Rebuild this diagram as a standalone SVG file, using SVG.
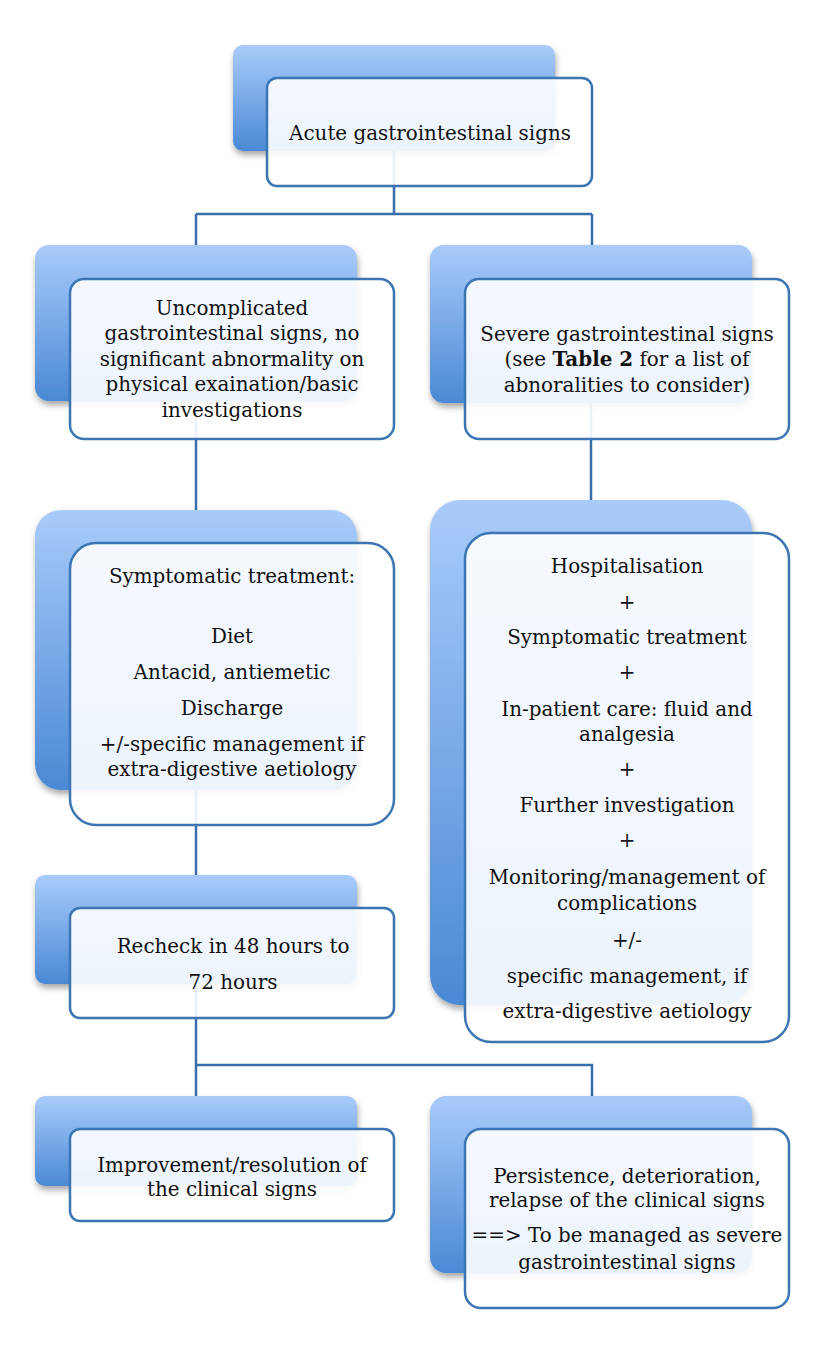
<svg xmlns="http://www.w3.org/2000/svg" width="839" height="1354" viewBox="0 0 839 1354">
<defs>
<linearGradient id="bg" x1="0" y1="0" x2="0" y2="1">
<stop offset="0" stop-color="#a9cbfa"/>
<stop offset="1" stop-color="#4a89d5"/>
</linearGradient>
<filter id="sh" x="-10%" y="-10%" width="125%" height="130%">
<feDropShadow dx="1" dy="4" stdDeviation="3" flood-color="#000" flood-opacity="0.35"/>
</filter>
</defs>
<style>
.back{fill:url(#bg);filter:url(#sh)}
.front{fill:#ffffff;fill-opacity:0.9;stroke:#3b75b4;stroke-width:2.5}
.conn{fill:none;stroke:#3a6ea8;stroke-width:2.5}
text{font-family:"DejaVu Serif","Liberation Serif",serif;font-size:19.9px;fill:#111;text-anchor:middle}
</style>
<rect width="839" height="1354" fill="#ffffff"/>
<g id="connectors">
<path class="conn" d="M394,151 V214 M196,214 H592 M196,214 V245 M592,214 V245"/>
<path class="conn" d="M196,400 V510"/>
<path class="conn" d="M591,403 V500"/>
<path class="conn" d="M196,790 V875"/>
<path class="conn" d="M196,984 V1096 M196,1065 H592 V1096"/>
</g>
<g id="n1">
<rect class="back" x="233" y="45" width="322" height="106" rx="10"/>
<rect class="front" x="267" y="78" width="325" height="108" rx="10"/>
<text x="430" y="140">Acute gastrointestinal signs</text>
</g>
<g id="n2">
<rect class="back" x="35" y="245" width="322" height="156" rx="14"/>
<rect class="front" x="70" y="279" width="324" height="160" rx="14"/>
<text x="232" y="315">Uncomplicated</text>
<text x="232" y="340">gastrointestinal signs, no</text>
<text x="232" y="366">significant abnormality on</text>
<text x="232" y="391">physical exaination/basic</text>
<text x="232" y="417">investigations</text>
</g>
<g id="n3">
<rect class="back" x="430" y="245" width="322" height="158" rx="14"/>
<rect class="front" x="465" y="279" width="324" height="160" rx="14"/>
<text x="627" y="341">Severe gastrointestinal signs</text>
<text x="627" y="366">(see <tspan font-weight="bold">Table 2</tspan> for a list of</text>
<text x="627" y="392">abnoralities to consider)</text>
</g>
<g id="n4">
<rect class="back" x="35" y="510" width="322" height="280" rx="26"/>
<rect class="front" x="70" y="543" width="324" height="282" rx="26"/>
<text x="232" y="583">Symptomatic treatment:</text>
<text x="232" y="643">Diet</text>
<text x="232" y="679">Antacid, antiemetic</text>
<text x="232" y="715">Discharge</text>
<text x="232" y="751">+/-specific management if</text>
<text x="232" y="776">extra-digestive aetiology</text>
</g>
<g id="n5">
<rect class="back" x="430" y="500" width="322" height="505" rx="30"/>
<rect class="front" x="465" y="533" width="324" height="509" rx="26"/>
<text x="627" y="573">Hospitalisation</text>
<text x="627" y="609">+</text>
<text x="627" y="644">Symptomatic treatment</text>
<text x="627" y="679">+</text>
<text x="627" y="716">In-patient care: fluid and</text>
<text x="627" y="741">analgesia</text>
<text x="627" y="776">+</text>
<text x="627" y="812">Further investigation</text>
<text x="627" y="847">+</text>
<text x="627" y="884">Monitoring/management of</text>
<text x="627" y="910">complications</text>
<text x="627" y="947">+/-</text>
<text x="627" y="983">specific management, if</text>
<text x="627" y="1018">extra-digestive aetiology</text>
</g>
<g id="n6">
<rect class="back" x="35" y="875" width="322" height="109" rx="10"/>
<rect class="front" x="70" y="908" width="324" height="110" rx="10"/>
<text x="233" y="953">Recheck in 48 hours to</text>
<text x="233" y="989">72 hours</text>
</g>
<g id="n7">
<rect class="back" x="35" y="1096" width="322" height="90" rx="10"/>
<rect class="front" x="70" y="1129" width="324" height="92" rx="10"/>
<text x="232" y="1172">Improvement/resolution of</text>
<text x="232" y="1196">the clinical signs</text>
</g>
<g id="n8">
<rect class="back" x="430" y="1096" width="322" height="177" rx="16"/>
<rect class="front" x="465" y="1129" width="324" height="179" rx="16"/>
<text x="627" y="1183">Persistence, deterioration,</text>
<text x="627" y="1207">relapse of the clinical signs</text>
<text x="627" y="1242">==&gt; To be managed as severe</text>
<text x="627" y="1269">gastrointestinal signs</text>
</g>
</svg>
